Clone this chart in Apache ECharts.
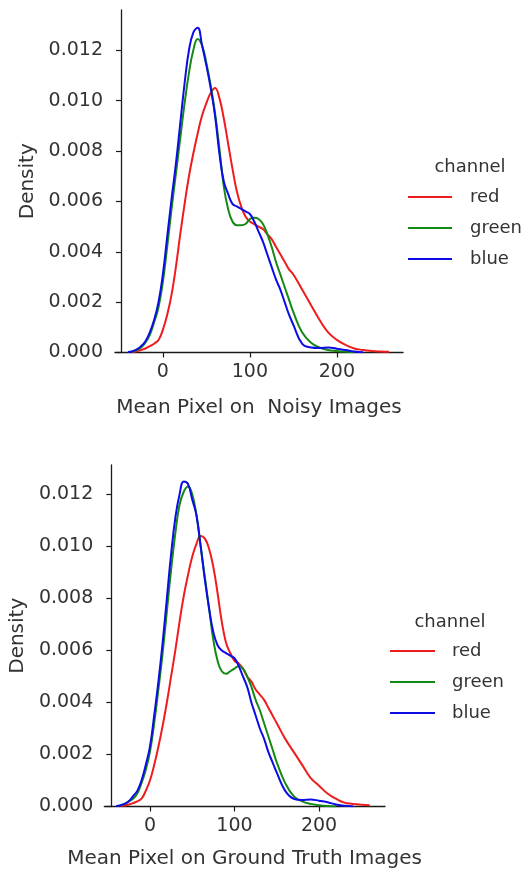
<!DOCTYPE html>
<html><head><meta charset="utf-8">
<script src="https://cdn.jsdelivr.net/npm/echarts@6/dist/echarts.min.js"></script>
<style>html,body{margin:0;padding:0;background:#fff}#c{width:529px;height:872px}</style>
</head><body><div id="c"></div>
<script>
// shared x grid for KDE curves (pixel mean values)
const xGrid = [-40,-35,-30,-25,-20,-15,-10,-5,0,5,10,15,20,25,30,35,40,45,50,55,60,65,70,75,80,85,90,95,100,105,110,115,120,125,130,135,140,145,150,160,170,180,190,200,210,220,230,240,250,260,270];

const channels = ['red', 'green', 'blue'];
const channelColors = ['#ee1c1c', '#148a14', '#0c0ce6'];

// Noisy images densities
const noisyRed = [null,0.00002,0.00005,0.0001,0.00016,0.00025,0.00035,0.0005,0.0009,0.0015,0.0023,0.0034,0.0047,0.0059,0.0070,0.0079,0.0087,0.0094,0.0099,0.0103,0.0105,0.0101,0.0093,0.0083,0.0073,0.0064,0.0058,0.0054,0.0052,0.0051,0.0050,0.0049,0.0047,0.0045,0.0042,0.0039,0.0036,0.0033,0.0031,0.0025,0.0019,0.0013,0.0008,0.0005,0.0003,0.00016,0.0001,0.00006,0.00004,0.00003,null];
const noisyGreen = [null,0.00004,0.0001,0.0002,0.0004,0.0007,0.0012,0.0018,0.0028,0.0042,0.0057,0.0071,0.0085,0.0099,0.0111,0.0120,0.01245,0.0122,0.0115,0.0106,0.0095,0.0081,0.0066,0.0057,0.0052,0.00505,0.00505,0.0051,0.0053,0.00535,0.0053,0.0051,0.0047,0.0042,0.0036,0.0031,0.0026,0.0021,0.0016,0.0008,0.0004,0.0002,0.0001,0.00006,0.00003,0.00001,null,null,null,null,null];
const noisyBlue = [0.00002,0.00005,0.00012,0.00025,0.00045,0.0008,0.0013,0.0020,0.0031,0.0046,0.0061,0.0075,0.0091,0.0107,0.0120,0.0127,0.0129,0.0122,0.0114,0.0105,0.0094,0.0079,0.0068,0.0063,0.0059,0.0058,0.0057,0.0056,0.0055,0.0052,0.0048,0.0044,0.0039,0.0034,0.0029,0.0025,0.0020,0.0015,0.0011,0.00035,0.0002,0.00018,0.0002,0.00015,0.0001,0.00004,0.00001,null,null,null,null];

// Ground truth images densities
const truthRed = [null,0.00002,0.00004,0.00008,0.00013,0.0002,0.0003,0.0006,0.0010,0.0016,0.0023,0.0031,0.0040,0.0050,0.0060,0.0071,0.0081,0.0089,0.0096,0.0101,0.0104,0.0103,0.0099,0.0092,0.0082,0.0071,0.0063,0.0059,0.0056,0.0055,0.0053,0.0050,0.0048,0.0045,0.0043,0.0041,0.0038,0.0035,0.0032,0.0026,0.0021,0.0016,0.0011,0.0008,0.0005,0.0003,0.00015,0.0001,0.00007,0.00005,null];
const truthGreen = [null,0.00004,0.0001,0.0002,0.0003,0.0005,0.0009,0.0014,0.0021,0.0032,0.0045,0.0059,0.0075,0.0091,0.0105,0.0116,0.0121,0.0123,0.0120,0.0112,0.0100,0.0088,0.0076,0.0064,0.0056,0.0052,0.0051,0.0052,0.0053,0.0054,0.0053,0.0050,0.0046,0.0041,0.0037,0.0032,0.0027,0.0022,0.0017,0.0009,0.0004,0.0002,0.0001,0.00005,0.00002,0.00001,null,null,null,null,null];
const truthBlue = [0.00002,0.00005,0.0001,0.0002,0.0004,0.0006,0.0010,0.0016,0.0023,0.0035,0.0048,0.0063,0.0080,0.0097,0.0111,0.0120,0.0125,0.0124,0.0118,0.0112,0.0100,0.0087,0.0076,0.0067,0.0062,0.0060,0.0059,0.0058,0.0057,0.0054,0.0050,0.0046,0.0040,0.0035,0.0030,0.0026,0.0021,0.0017,0.0013,0.0006,0.0003,0.00025,0.00027,0.00022,0.00016,0.00008,0.00003,0.00001,null,null,null];

const xTicks = [0, 100, 200];
const yTicks = [0, 0.002, 0.004, 0.006, 0.008, 0.010, 0.012];
const xNames = ['Mean Pixel on  Noisy Images', 'Mean Pixel on Ground Truth Images'];
const yName = 'Density';
const legendTitle = 'channel';

const FONT = 'DejaVu Sans';
const TXT = '#333333';
const AX = '#1a1a1a';

function pairs(vals) {
  const out = [];
  xGrid.forEach((x, i) => { if (vals[i] !== null) out.push([x, vals[i]]); });
  return out;
}

function xAxisCfg(idx, min, max, gap) {
  return {
    gridIndex: idx, type: 'value', min: min, max: max,
    name: xNames[idx], nameLocation: 'middle', nameGap: gap,
    nameTextStyle: { fontSize: 20, fontFamily: FONT, color: TXT },
    axisLine: { show: true, onZero: false, lineStyle: { color: AX, width: 1.3 } },
    axisTick: { show: true, length: 5, customValues: xTicks, lineStyle: { color: AX, width: 1.2 } },
    axisLabel: { customValues: xTicks, fontSize: 19, fontFamily: FONT, color: TXT, margin: 10 },
    splitLine: { show: false }
  };
}
function yAxisCfg(idx, max, off) {
  return {
    gridIndex: idx, type: 'value', min: 0, max: max, offset: off,
    name: yName, nameLocation: 'middle', nameGap: 83,
    nameTextStyle: { fontSize: 20, fontFamily: FONT, color: TXT },
    axisLine: { show: true, onZero: false, lineStyle: { color: AX, width: 1.3 } },
    axisTick: { show: true, length: 5, customValues: yTicks, lineStyle: { color: AX, width: 1.2 } },
    axisLabel: { customValues: yTicks, formatter: v => v.toFixed(3), fontSize: 19, fontFamily: FONT, color: TXT, margin: 18 },
    splitLine: { show: false }
  };
}
function legendCfg(left, top, w, pad) {
  return {
    orient: 'vertical', left: left, top: top, padding: 0,
    icon: 'rect', itemWidth: w, itemHeight: 2, itemGap: 11,
    textStyle: { fontSize: 18, lineHeight: 20, fontFamily: FONT, color: TXT, padding: [0, 0, 0, pad] },
    data: channels
  };
}

const groups = [[noisyRed, noisyGreen, noisyBlue], [truthRed, truthGreen, truthBlue]];
const series = [];
groups.forEach((g, gi) => {
  g.forEach((vals, ci) => {
    series.push({
      name: channels[ci], type: 'line', xAxisIndex: gi, yAxisIndex: gi,
      data: pairs(vals), showSymbol: false, symbol: 'none', smooth: 0.45,
      color: channelColors[ci],
      itemStyle: { color: channelColors[ci] },
      lineStyle: { color: channelColors[ci], width: 2 },
      z: 2 + ci
    });
  });
});

const chart = echarts.init(document.getElementById('c'), null, { renderer: 'canvas' });
chart.setOption({
  animation: false,
  backgroundColor: '#ffffff',
  grid: [
    { left: 115, right: 126, top: 10, bottom: 519.5 },
    { left: 95, right: 144, top: 465, bottom: 65.5 }
  ],
  xAxis: [xAxisCfg(0, -55, 276, 45), xAxisCfg(1, -54, 278, 42)],
  yAxis: [yAxisCfg(0, 0.0136, -6), yAxisCfg(1, 0.01313, -7)],
  legend: [legendCfg(408, 187, 44, 13), legendCfg(390, 641, 45, 12)],
  graphic: [
    { type: 'text', x: 470, y: 167, style: { text: legendTitle, fontSize: 18, fontFamily: FONT, fill: TXT, textAlign: 'center', textVerticalAlign: 'middle' } },
    { type: 'text', x: 450, y: 622, style: { text: legendTitle, fontSize: 18, fontFamily: FONT, fill: TXT, textAlign: 'center', textVerticalAlign: 'middle' } }
  ],
  series: series
});
</script>
</body></html>
